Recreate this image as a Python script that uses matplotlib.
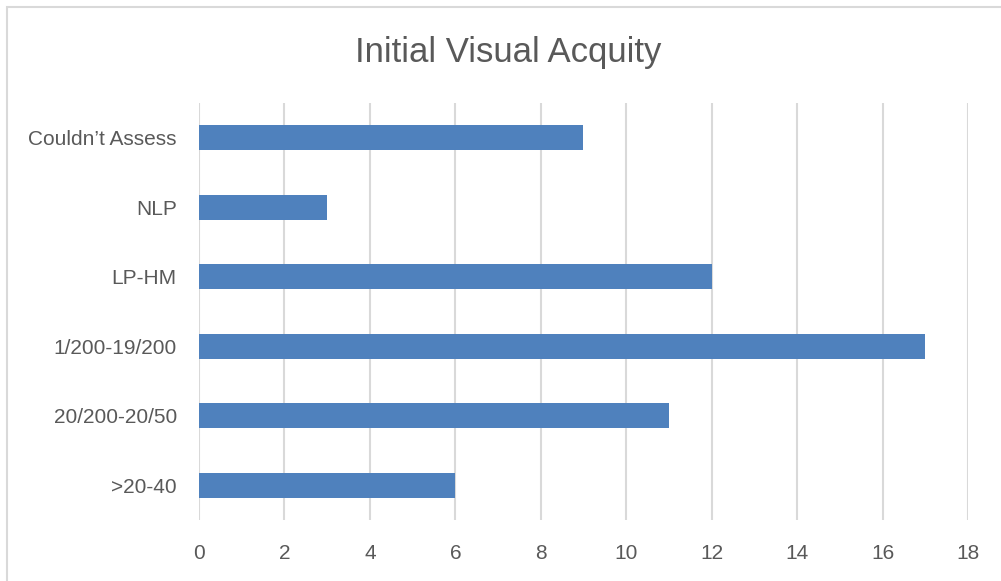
import matplotlib.pyplot as plt
from matplotlib.patches import Rectangle

# visual acuity groups at presentation, bottom to top
categories = [">20-40", "20/200-20/50", "1/200-19/200", "LP-HM", "NLP", "Couldn\u2019t Assess"]
counts = [6, 11, 17, 12, 3, 9]
xticks = [0, 2, 4, 6, 8, 10, 12, 14, 16, 18]

plt.rcParams['font.family'] = ['Liberation Sans', 'DejaVu Sans']
txt = '#595959'

fig = plt.figure(figsize=(10.01, 5.81), dpi=100)
ax = fig.add_axes([0.1988, 0.105, 0.7682, 0.7177])

ax.barh(range(len(categories)), counts, height=0.36, color='#4F81BD', zorder=3)

ax.set_xlim(0, 18)
ax.set_ylim(-0.5, len(categories) - 0.5)
ax.set_xticks(xticks)
ax.set_yticks(range(len(categories)))
ax.set_yticklabels(categories)
ax.grid(axis='x', color='#D9D9D9', linewidth=1.5, zorder=0)
ax.tick_params(length=0, labelsize=15, labelcolor=txt)
ax.tick_params(axis='x', pad=17)
ax.tick_params(axis='y', pad=16)
for s in ax.spines.values():
    s.set_visible(False)

fig.text(0.508, 0.91, "Initial Visual Acquity", ha='center', va='center',
         fontsize=25, color=txt)

# chart frame
fig.patches.append(Rectangle((0.007, -0.05), 1.1, 1.038, transform=fig.transFigure,
                             fill=False, edgecolor='#D9D9D9', linewidth=1.5))

fig.savefig('out.png', dpi=100)
